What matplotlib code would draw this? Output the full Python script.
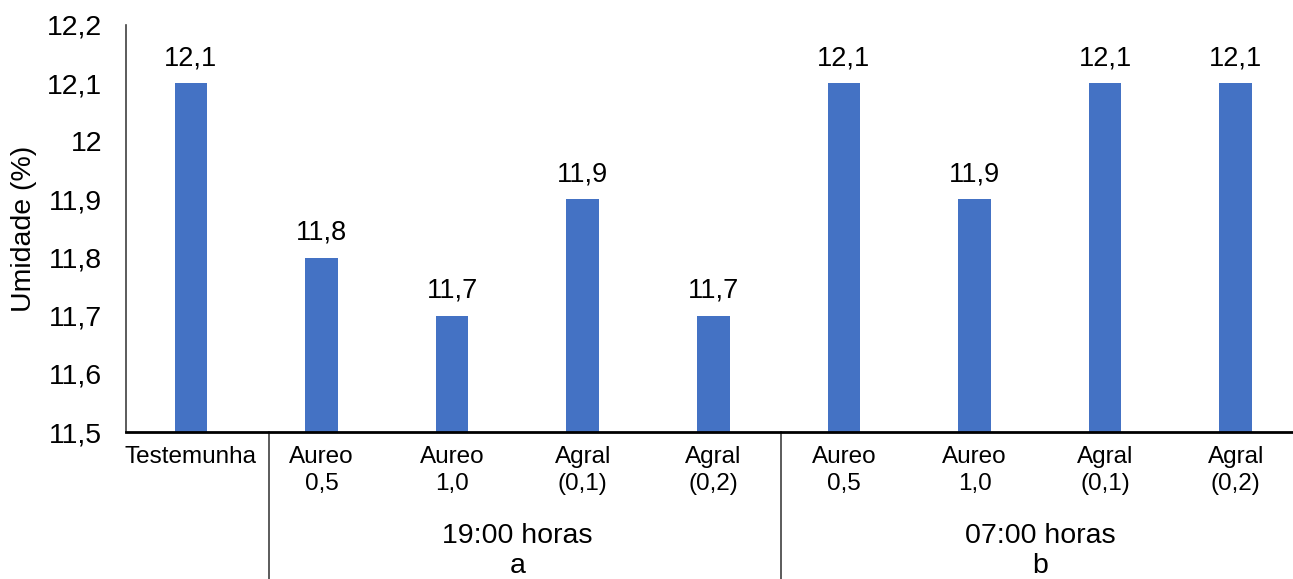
import matplotlib
matplotlib.use("Agg")
import matplotlib.pyplot as plt
from matplotlib.lines import Line2D
import matplotlib.transforms as mtransforms

plt.rcParams['font.family'] = ['Liberation Sans', 'DejaVu Sans']

categories = ["Testemunha", "Aureo\n0,5", "Aureo\n1,0", "Agral\n(0,1)", "Agral\n(0,2)",
              "Aureo\n0,5", "Aureo\n1,0", "Agral\n(0,1)", "Agral\n(0,2)"]
values = [12.1, 11.8, 11.7, 11.9, 11.7, 12.1, 11.9, 12.1, 12.1]
value_labels = ["12,1", "11,8", "11,7", "11,9", "11,7", "12,1", "11,9", "12,1", "12,1"]
yticks = [11.5, 11.6, 11.7, 11.8, 11.9, 12.0, 12.1, 12.2]
ytick_labels = ["11,5", "11,6", "11,7", "11,8", "11,9", "12", "12,1", "12,2"]
groups = ["19:00 horas\na", "07:00 horas\nb"]
group_centers = [2.5, 6.5]
separators = [0.6, 4.52]

W, H = 1293, 579
fig = plt.figure(figsize=(W / 100, H / 100), dpi=100)
left, right, top, bottom = 125.7, 1301, 25, 432
ax = fig.add_axes([left / W, 1 - bottom / H, (right - left) / W, (bottom - top) / H])

x = list(range(len(values)))
bars = ax.bar(x, [v - 11.5 for v in values], bottom=11.5, width=0.25, color="#4472C4")
for xi, v, lab in zip(x, values, value_labels):
    ax.annotate(lab, (xi, v), xytext=(0, 8.5), textcoords="offset points",
                ha="center", va="bottom", fontsize=19.5)

ax.set_xlim(-0.5, 8.5)
ax.set_ylim(11.5, 12.2)
ax.set_yticks(yticks)
ax.set_yticklabels(ytick_labels, fontsize=20.5)
ax.set_xticks(x)
ax.set_xticklabels(categories, fontsize=17.5, linespacing=1.32)
ax.tick_params(axis="y", length=0, pad=17)
ax.tick_params(axis="x", length=0, pad=10)
ax.set_ylabel("Umidade (%)", fontsize=20.5, labelpad=7)

for s in ["top", "right"]:
    ax.spines[s].set_visible(False)
ax.spines["left"].set_color("#404040")
ax.spines["left"].set_linewidth(1.2)
ax.spines["bottom"].set_color("black")
ax.spines["bottom"].set_linewidth(2)

trans = mtransforms.blended_transform_factory(ax.transData, ax.transAxes)
for sx in separators:
    ax.add_line(Line2D([sx, sx], [0, -0.4], transform=trans, color="#404040",
                       lw=1.2, clip_on=False))
for gc, g in zip(group_centers, groups):
    ax.text(gc, -0.223, g, transform=trans, ha="center", va="top", fontsize=20.5,
            linespacing=1.22)

fig.savefig("out.png", dpi=100)
